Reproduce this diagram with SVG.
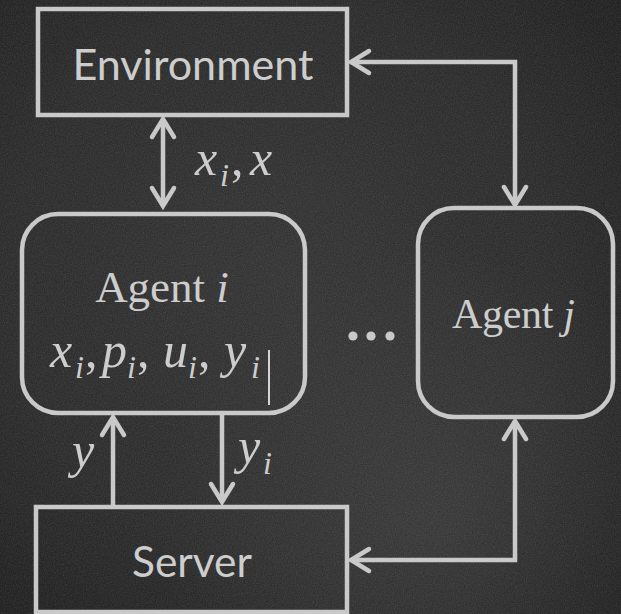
<svg xmlns="http://www.w3.org/2000/svg" width="621" height="614" viewBox="0 0 621 614">
  <defs>
    <style>
      .box { fill: none; stroke: #c9c9c9; stroke-width: 4.5; }
      .wire { fill: none; stroke: #c9c9c9; stroke-width: 4.5; }
      .sans { font-family: Lato, "Liberation Sans", Arial, sans-serif; fill: #cdcdcd; }
      .serif { font-family: "Liberation Serif", "Times New Roman", serif; fill: #cdcdcd; }
      .math { font-family: "Liberation Serif", "Times New Roman", serif; font-style: italic; fill: #cdcdcd; font-size: 50px; }
      .sub { font-size: 32px; }
      .up { font-style: normal; }
    </style>
    <!-- open chevron arrowhead, tip at the path end -->
    <marker id="chev" markerUnits="userSpaceOnUse" markerWidth="40" markerHeight="40"
            viewBox="-25 -20 40 40" refX="0" refY="0" orient="auto-start-reverse" overflow="visible">
      <path d="M -18 -11 L 0 0 L -18 11" fill="none" stroke="#c9c9c9" stroke-width="4.5"
            stroke-linecap="round" stroke-linejoin="miter"/>
    </marker>
    <radialGradient id="board" cx="0.45" cy="0.45" r="0.75">
      <stop offset="0" stop-color="#343434"/>
      <stop offset="0.6" stop-color="#2b2b2b"/>
      <stop offset="1" stop-color="#1e1e1e"/>
    </radialGradient>
    <radialGradient id="smudge" cx="0.7" cy="0.85" r="0.45">
      <stop offset="0" stop-color="#4a4a4a" stop-opacity="0.45"/>
      <stop offset="1" stop-color="#4a4a4a" stop-opacity="0"/>
    </radialGradient>
    <filter id="grain" x="0" y="0" width="100%" height="100%">
      <feTurbulence type="fractalNoise" baseFrequency="0.9" numOctaves="2" seed="4" result="n"/>
      <feColorMatrix in="n" type="matrix"
        values="0 0 0 0 0.8  0 0 0 0 0.8  0 0 0 0 0.8  0 0 0 0.3 -0.08"/>
    </filter>
  </defs>

  <!-- chalkboard -->
  <rect width="621" height="614" fill="url(#board)"/>
  <rect width="621" height="614" fill="url(#smudge)"/>
  <rect width="621" height="614" filter="url(#grain)" opacity="0.6"/>

  <g id="connectors">
    <path id="env-agent-i" class="wire" d="M 163 119 V 206" marker-start="url(#chev)" marker-end="url(#chev)"/>
    <path id="env-agent-j" class="wire" d="M 351 62 H 515 V 205" marker-start="url(#chev)" marker-end="url(#chev)"/>
    <path id="server-agent-i" class="wire" d="M 113 507 V 417" marker-end="url(#chev)"/>
    <path id="agent-i-server" class="wire" d="M 222 413 V 502" marker-end="url(#chev)"/>
    <path id="agent-j-server" class="wire" d="M 515 421 V 560 H 351" marker-start="url(#chev)" marker-end="url(#chev)"/>
    <text class="math"><tspan x="195" y="175">x</tspan><tspan class="sub" x="220" y="186">i</tspan><tspan class="up" x="231" y="175">,</tspan><tspan x="250" y="175">x</tspan></text>
    <text class="math" x="72" y="467">y</text>
    <text class="math"><tspan x="238" y="463">y</tspan><tspan class="sub" x="263" y="474">i</tspan></text>
  </g>

  <g id="environment">
    <rect class="box" x="38" y="9" width="309" height="106"/>
    <text class="sans" x="193" y="80" font-size="42" text-anchor="middle" textLength="241" lengthAdjust="spacingAndGlyphs">Environment</text>
  </g>

  <g id="agent-i">
    <rect class="box" x="22" y="214" width="283" height="199" rx="36"/>
    <text class="serif" x="162" y="302" font-size="45" text-anchor="middle">Agent <tspan font-style="italic">i</tspan></text>
    <text class="math">
      <tspan x="50" y="367">x</tspan><tspan class="sub" x="75" y="378">i</tspan><tspan class="up" x="85" y="367">,</tspan>
      <tspan x="102" y="367">p</tspan><tspan class="sub" x="127" y="378">i</tspan><tspan class="up" x="137" y="367">,</tspan>
      <tspan x="163" y="367">u</tspan><tspan class="sub" x="188" y="378">i</tspan><tspan class="up" x="198" y="367">,</tspan>
      <tspan x="224" y="367">y</tspan><tspan class="sub" x="251" y="378">i</tspan>
    </text>
    <line x1="269" y1="350" x2="269" y2="405" stroke="#d4d4d4" stroke-width="2"/>
  </g>

  <g id="ellipsis" fill="#c9c9c9">
    <circle cx="353" cy="336" r="4.6"/>
    <circle cx="371" cy="336" r="4.6"/>
    <circle cx="390" cy="336" r="4.6"/>
  </g>

  <g id="agent-j">
    <rect class="box" x="418" y="208" width="195" height="209" rx="36"/>
    <text class="serif" x="513.5" y="328" font-size="42" text-anchor="middle" textLength="123" lengthAdjust="spacing">Agent <tspan font-style="italic">j</tspan></text>
  </g>

  <g id="server">
    <rect class="box" x="36" y="507" width="311" height="105"/>
    <text class="sans" x="192" y="577" font-size="42" text-anchor="middle" textLength="120" lengthAdjust="spacingAndGlyphs">Server</text>
  </g>
</svg>
